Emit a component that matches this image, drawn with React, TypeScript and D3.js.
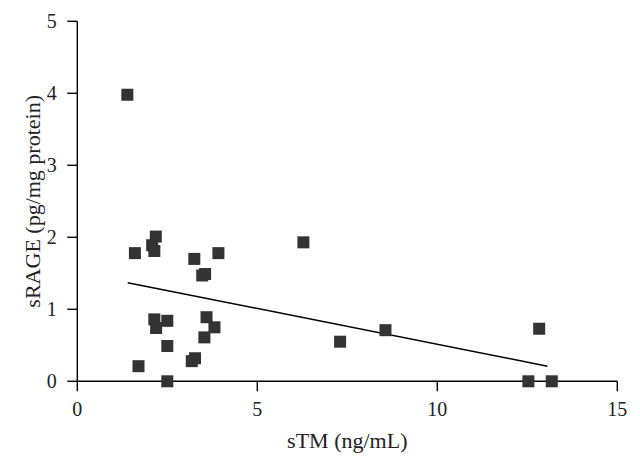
import React from "react";
import * as d3 from "d3";

const sTM = [1.39, 1.6, 2.18, 2.08, 2.14, 3.25, 3.92, 3.47, 3.55, 6.28, 2.14, 2.5, 2.19, 3.59, 3.81, 3.53, 2.5, 1.7, 3.18, 3.27, 2.5, 7.3, 8.56, 12.83, 12.53, 13.18];
const sRAGE = [3.98, 1.78, 2.01, 1.89, 1.81, 1.7, 1.78, 1.47, 1.49, 1.93, 0.86, 0.84, 0.74, 0.89, 0.75, 0.61, 0.49, 0.21, 0.28, 0.32, 0.0, 0.55, 0.71, 0.73, 0.0, 0.0];
const trendX = [1.4, 13.06];
const trendY = [1.37, 0.21];
const xTicks = [0, 5, 10, 15];
const yTicks = [0, 1, 2, 3, 4, 5];
const xTitle = "sTM (ng/mL)";
const yTitle = "sRAGE (pg/mg protein)";

const W = 640;
const H = 468;

export default function App() {
  const x = d3.scaleLinear().domain([0, 15]).range([77.3, 617.3]);
  const y = d3.scaleLinear().domain([0, 5]).range([381.3, 21.3]);
  const line = d3
    .line<number>()
    .x((d) => x(trendX[d]))
    .y((d) => y(trendY[d]));
  const font = "'Liberation Serif', 'Times New Roman', serif";
  const tickLen = 10;
  const s = 12;
  return (
    <svg width={W} height={H} style={{ position: "absolute", left: 0, top: 0, background: "#fff" }}>
      <rect width={W} height={H} fill="#fff" />
      {/* axes */}
      <line x1={x(0)} x2={x(0)} y1={y(5)} y2={y(0)} stroke="#000" strokeWidth={1.4} />
      <line x1={x(0)} x2={x(15)} y1={y(0)} y2={y(0)} stroke="#000" strokeWidth={1.4} />
      {yTicks.map((t) => (
        <g key={"y" + t}>
          <line x1={x(0) - tickLen} x2={x(0)} y1={y(t)} y2={y(t)} stroke="#000" strokeWidth={1.4} />
          <text x={x(0) - 20.5} y={y(t) + 6.5} textAnchor="end" fontFamily={font} fontSize={20} fill="#222">
            {t}
          </text>
        </g>
      ))}
      {xTicks.map((t) => (
        <g key={"x" + t}>
          <line x1={x(t)} x2={x(t)} y1={y(0)} y2={y(0) + tickLen} stroke="#000" strokeWidth={1.4} />
          <text x={x(t)} y={416} textAnchor="middle" fontFamily={font} fontSize={20} fill="#222">
            {t}
          </text>
        </g>
      ))}
      <text x={(x(0) + x(15)) / 2} y={448} textAnchor="middle" fontFamily={font} fontSize={22} fill="#222">
        {xTitle}
      </text>
      <text
        transform={`translate(40, ${(y(0) + y(5)) / 2}) rotate(-90)`}
        textAnchor="middle"
        fontFamily={font}
        fontSize={22}
        fill="#222"
      >
        {yTitle}
      </text>
      {/* trend line */}
      <path d={line([0, 1]) || ""} fill="none" stroke="#000" strokeWidth={1.5} />
      {/* points */}
      {sTM.map((v, i) => (
        <rect key={i} x={x(v) - s / 2} y={y(sRAGE[i]) - s / 2} width={s} height={s} fill="#333" />
      ))}
    </svg>
  );
}
